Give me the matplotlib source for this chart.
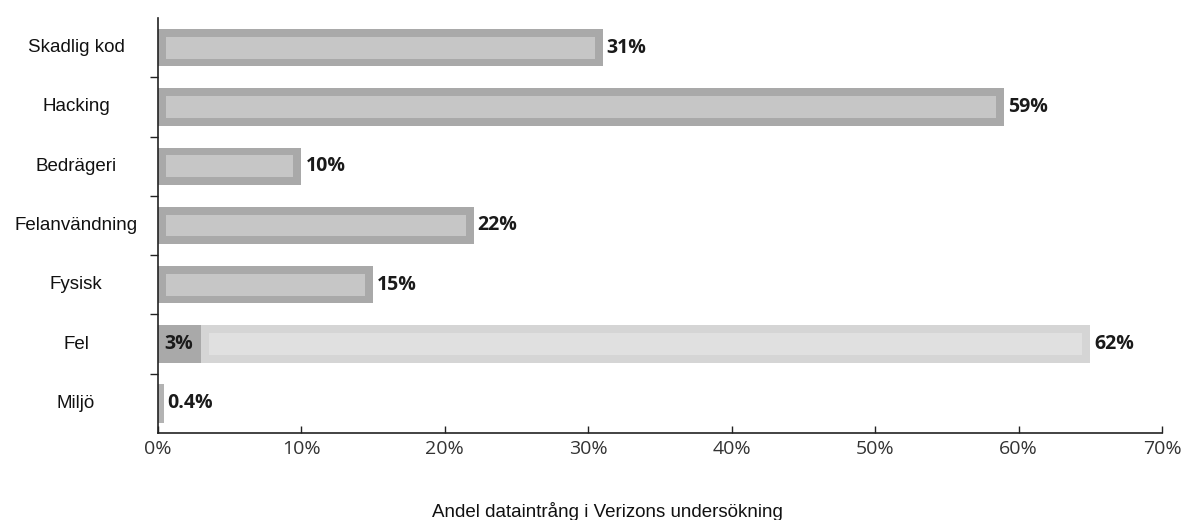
import matplotlib
matplotlib.use("Agg")
from matplotlib import pyplot as plt
from matplotlib.transforms import blended_transform_factory

# Andel dataintrång per kategori (procent)
categories = ['Skadlig kod', 'Hacking', 'Bedrägeri', 'Felanvändning', 'Fysisk', 'Fel', 'Miljö']
values = [31, 59, 10, 22, 15, 3, 0.4]
# Fel har en extra, ljusare del som staplas efter den mörka
fel_extra = 62
value_labels = ['31%', '59%', '10%', '22%', '15%', '3%', '0.4%']
fel_extra_label = '62%'
xticks = [0, 10, 20, 30, 40, 50, 60, 70]
xtick_labels = ['0%', '10%', '20%', '30%', '40%', '50%', '60%', '70%']
xlabel = 'Andel dataintrång i Verizons undersökning'

DARK = '#a9a9a9'
INNER = '#c6c6c6'
LIGHT = '#d5d5d5'
LIGHT_INNER = '#e0e0e0'

fig = plt.figure(figsize=(11.92, 5.2), dpi=100)
ax = fig.add_axes([158 / 1192, 87 / 520, 1004 / 1192, 415 / 520])

ax.set_xlim(0, 70)
ax.set_ylim(len(categories) - 0.5, -0.5)

# inset for the inner highlight, in data units (~8 px)
px = 70 / 1004
inset = 8 * px

ys = list(range(len(categories)))
fel_idx = categories.index('Fel')
miljo_idx = categories.index('Miljö')

for y, v in zip(ys, values):
    if y == miljo_idx:
        ax.barh(y, v, height=0.66, color='#b3b3b3', left=0)
        continue
    ax.barh(y, v, height=0.63, color=DARK, left=0)
    if y != fel_idx:
        ax.barh(y, v - 2 * inset, height=0.37, color=INNER, left=inset)

# ljus staplad del for Fel
ax.barh(fel_idx, fel_extra, height=0.63, color=LIGHT, left=values[fel_idx])
ax.barh(fel_idx, fel_extra - 2 * inset, height=0.37, color=LIGHT_INNER,
        left=values[fel_idx] + inset)

vfont = dict(family=['Open Sans', 'DejaVu Sans'], weight='bold', fontsize=14, color='#1a1a1a')
for y, v, lab in zip(ys, values, value_labels):
    if y == fel_idx:
        ax.text(0.45, y, lab, va='center', ha='left', **vfont)
    else:
        ax.text(v + 4 * px, y, lab, va='center', ha='left', **vfont)
ax.text(values[fel_idx] + fel_extra + 4 * px, fel_idx, fel_extra_label,
        va='center', ha='left', **vfont)

# kategorinamn till vänster
trans = blended_transform_factory(fig.transFigure, ax.transData)
for y, name in zip(ys, categories):
    ax.text(76 / 1192, y, name, transform=trans, ha='center', va='center',
            fontsize=13.5, family=['Liberation Sans', 'DejaVu Sans'], color='#111111')

ax.set_yticks([y + 0.5 for y in ys[:-1]])
ax.set_yticklabels([])
ax.tick_params(axis='y', direction='out', length=6, width=1, color='#222222')

ax.set_xticks(xticks)
ax.set_xticklabels(xtick_labels, family=['Open Sans', 'DejaVu Sans'], fontsize=14, color='#333333')
ax.tick_params(axis='x', direction='in', length=5, width=1, color='#222222', pad=5)

for s in ['top', 'right']:
    ax.spines[s].set_visible(False)
for s in ['left', 'bottom']:
    ax.spines[s].set_color('#222222')
    ax.spines[s].set_linewidth(1.2)

fig.text(607 / 1192, 3 / 520, xlabel, ha='center', va='baseline',
         fontsize=13.5, family=['Liberation Sans', 'DejaVu Sans'], color='#111111')

fig.savefig('out.png', dpi=100)
